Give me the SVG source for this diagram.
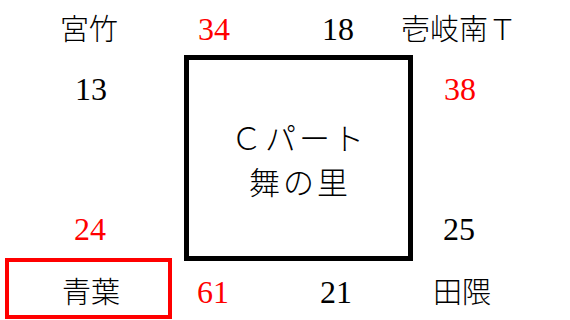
<svg xmlns="http://www.w3.org/2000/svg" width="570" height="320" viewBox="0 0 570 320">
<style>
text{font-family:"Liberation Serif","Noto Sans CJK JP",serif;font-size:32px;text-anchor:middle;fill:#000}
.j{font-size:29px;font-weight:300}
.r{fill:#ff0000}
.c{font-size:31px;letter-spacing:3px}
</style>
<rect width="570" height="320" fill="#fff"/>
<g id="connectors"/>
<g id="center"><rect x="186.5" y="57.5" width="224" height="201" fill="none" stroke="#000" stroke-width="5"/>
<text class="j c" x="299" y="150">Ｃパート</text>
<text class="j c" x="300" y="194">舞の里</text></g>
<g id="miyatake"><text class="j" x="89" y="40">宮竹</text></g>
<g id="n34"><text class="r" x="214" y="40">34</text></g>
<g id="n18"><text x="338" y="40">18</text></g>
<g id="ikiminami"><text class="j" x="459" y="40">壱岐南Ｔ</text></g>
<g id="n13"><text x="91" y="100">13</text></g>
<g id="n38"><text class="r" x="460" y="100">38</text></g>
<g id="n24"><text class="r" x="90" y="240">24</text></g>
<g id="n25"><text x="459" y="240">25</text></g>
<g id="aoba"><rect x="7" y="260" width="163" height="57" fill="none" stroke="#ff0000" stroke-width="4"/>
<text class="j" x="91" y="303">青葉</text></g>
<g id="n61"><text class="r" x="213" y="303">61</text></g>
<g id="n21"><text x="336" y="303">21</text></g>
<g id="taguma"><text class="j" x="462" y="303">田隈</text></g>
</svg>
